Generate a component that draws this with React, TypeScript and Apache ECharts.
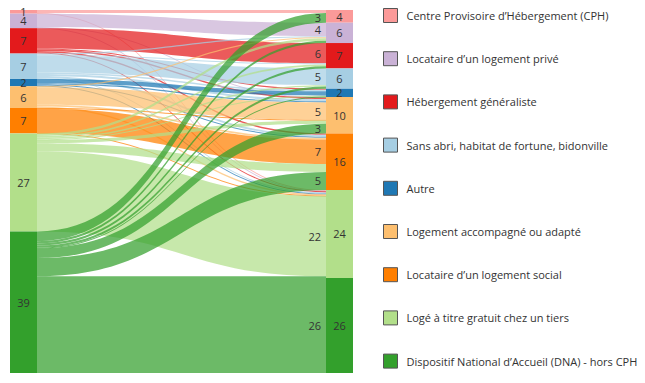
import React, { useEffect, useRef } from "react";
import * as echarts from "echarts";

const categories = [
  "Centre Provisoire d’Hébergement (CPH)",
  "Locataire d’un logement privé",
  "Hébergement généraliste",
  "Sans abri, habitat de fortune, bidonville",
  "Autre",
  "Logement accompagné ou adapté",
  "Locataire d’un logement social",
  "Logé à titre gratuit chez un tiers",
  "Dispositif National d’Accueil (DNA) - hors CPH",
];

const colors = [
  "#fb9a99",
  "#cab2d6",
  "#e31a1c",
  "#a6cee3",
  "#1f78b4",
  "#fdbf6f",
  "#ff7f00",
  "#b2df8a",
  "#33a02c",
];

// rows = situation before (left), columns = situation after (right)
const flowCPH = [0.8, 0, 0, 0, 0, 0, 0, 0.2, 0];
const flowPrive = [0, 3.7, 0, 0, 0, 0.15, 0, 0.15, 0];
const flowHeberg = [0, 0, 5.6, 0, 0.3, 0.4, 0.4, 0.3, 0];
const flowSansAbri = [0, 0.3, 0.3, 4.6, 0.4, 0.6, 0.5, 0.3, 0];
const flowAutre = [0, 0, 0, 0, 1.2, 0.3, 0.3, 0.2, 0];
const flowAccomp = [0, 0.3, 0, 0, 0, 4.8, 0.5, 0.4, 0];
const flowSocial = [0, 0, 0, 0, 0, 0.2, 6.7, 0.1, 0];
const flowLoge = [0, 0.7, 0.5, 0.4, 0.2, 0.9, 2.2, 22.1, 0];
const flowDNA = [2.7, 0.6, 0.6, 0.6, 0.2, 2.65, 5.0, 0.45, 26.2];

const flowMatrix = [
  flowCPH,
  flowPrive,
  flowHeberg,
  flowSansAbri,
  flowAutre,
  flowAccomp,
  flowSocial,
  flowLoge,
  flowDNA,
];

const FONT = "'Open Sans', 'DejaVu Sans', sans-serif";
const LABEL_MIN = 2.5;

export default function App() {
  const ref = useRef<HTMLDivElement>(null);

  useEffect(() => {
    document.body.style.margin = "0";
    const chart = echarts.init(ref.current!, null, { renderer: "svg" });

    const nodes: any[] = [];
    categories.forEach((c, i) => {
      nodes.push({ name: "L" + i, itemStyle: { color: colors[i] } });
    });
    categories.forEach((c, i) => {
      nodes.push({ name: "R" + i, itemStyle: { color: colors[i] } });
    });

    const links: any[] = [];
    flowMatrix.forEach((row, i) => {
      row.forEach((v, j) => {
        if (v > 0) links.push({ source: "L" + i, target: "R" + j, value: v });
      });
    });

    const option: any = {
      animation: false,
      legend: {
        orient: "vertical",
        left: 383,
        top: 8,
        bottom: 0,
        padding: 0,
        itemWidth: 14,
        itemHeight: 14,
        itemGap: 28.2,
        icon: "rect",
        selectedMode: false,
        itemStyle: { borderColor: "#555", borderWidth: 1 },
        textStyle: {
          fontSize: 11,
          color: "#333",
          fontFamily: FONT,
          lineHeight: 14,
          padding: [0, 0, 0, 4],
        },
        data: categories,
      },
      series: [
        {
          type: "sankey",
          left: 10,
          right: 292,
          top: 10,
          bottom: 10,
          nodeWidth: 27,
          nodeGap: 0,
          layoutIterations: 0,
          draggable: false,
          emphasis: { disabled: true },
          itemStyle: { borderWidth: 0 },
          lineStyle: { color: "source", opacity: 0.72, curveness: 0.5 },
          label: {
            show: true,
            position: "inside",
            color: "#333",
            fontSize: 11,
            fontFamily: FONT,
            formatter: (p: any) => {
              const idx = Number(String(p.name).slice(1));
              const left = String(p.name)[0] === "L";
              let s = 0;
              flowMatrix.forEach((row, i) => {
                row.forEach((v, j) => {
                  if ((left && i === idx) || (!left && j === idx)) s += v;
                });
              });
              return String(Math.round(s + 1e-6));
            },
          },
          data: nodes,
          links: links,
        },
        {
          type: "pie",
          silent: true,
          radius: 0,
          center: [-200, -200],
          stillShowZeroSum: false,
          label: { show: false },
          labelLine: { show: false },
          data: categories.map((c, i) => ({
            name: c,
            value: 0,
            itemStyle: { color: colors[i] },
          })),
        },
      ],
    };

    chart.setOption(option);

    try {
      const model = (chart as any).getModel();
      const series = model.getSeriesByIndex(0);
      const graph = series.getGraph();
      const info = series.layoutInfo;
      const texts: any[] = [];
      graph.edges.forEach((e: any) => {
        const v = links[e.dataIndex].value;
        if (v < LABEL_MIN) return;
        const el = e.getLayout();
        const n2 = e.node2.getLayout();
        texts.push({
          type: "text",
          z: 100,
          zlevel: 0,
          x: info.x + n2.x - 5,
          y: info.y + n2.y + el.ty + el.dy / 2,
          silent: true,
          style: {
            text: String(Math.round(v + 1e-6)),
            align: "right",
            verticalAlign: "middle",
            fill: "#333",
            fontSize: 11,
            fontFamily: FONT,
          },
        });
      });
      chart.setOption({ graphic: texts });
    } catch (err) {
      // ignore
    }

    return () => chart.dispose();
  }, []);

  return <div ref={ref} style={{ width: 645, height: 383 }} />;
}
